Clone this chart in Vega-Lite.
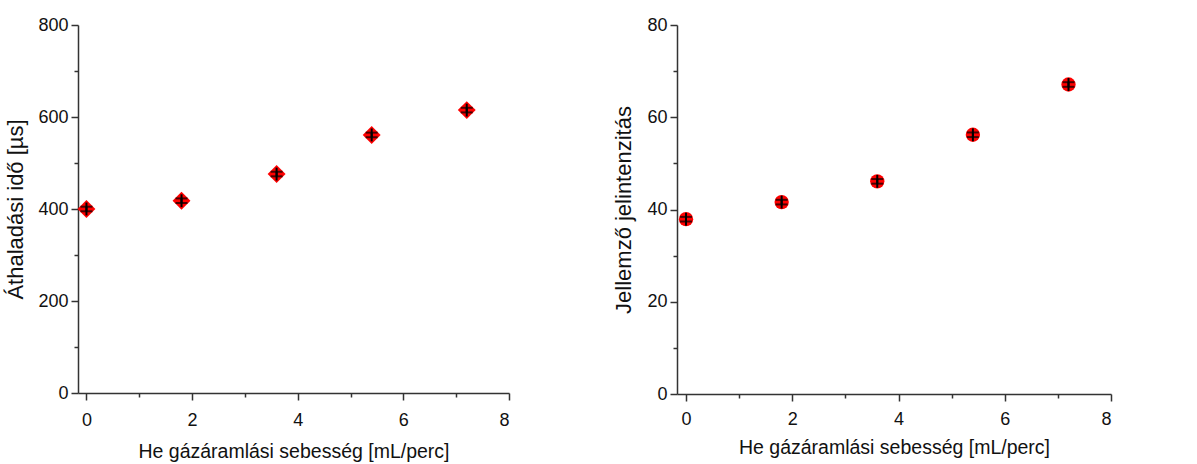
{
  "$schema": "https://vega.github.io/schema/vega-lite/v6.json",
  "padding": {"left": 4, "top": 16, "right": 5, "bottom": 4},
  "spacing": 102,
  "data": {
    "values": [
      {"x": 0, "t": 400, "tlo": 386, "thi": 414, "tclo": 395, "tchi": 405, "i": 37.9, "ilo": 36.5, "ihi": 39.3, "iclo": 37.4, "ichi": 38.4},
      {"x": 1.8, "t": 418, "tlo": 404, "thi": 432, "tclo": 413, "tchi": 423, "i": 41.6, "ilo": 40.2, "ihi": 43.0, "iclo": 41.1, "ichi": 42.1},
      {"x": 3.6, "t": 476, "tlo": 462, "thi": 490, "tclo": 471, "tchi": 481, "i": 46.1, "ilo": 44.7, "ihi": 47.5, "iclo": 45.6, "ichi": 46.6},
      {"x": 5.4, "t": 561, "tlo": 547, "thi": 575, "tclo": 556, "tchi": 566, "i": 56.2, "ilo": 54.8, "ihi": 57.6, "iclo": 55.7, "ichi": 56.7},
      {"x": 7.2, "t": 615, "tlo": 601, "thi": 629, "tclo": 610, "tchi": 620, "i": 67.1, "ilo": 65.7, "ihi": 68.5, "iclo": 66.6, "ichi": 67.6}
    ]
  },
  "hconcat": [
    {
      "width": 431,
      "height": 368,
      "layer": [
        {
          "mark": {"type": "point", "shape": "diamond", "filled": true, "color": "#ff0000", "opacity": 1, "size": 320},
          "encoding": {
            "x": {"field": "x", "type": "quantitative", "scale": {"domain": [-0.16, 8], "nice": false, "zero": false},
              "title": "He gázáramlási sebesség [mL/perc]",
              "axis": {"values": [0,1,2,3,4,5,6,7,8],
                "labelFontSize": 18, "titleFontSize": 19.5, "titlePadding": 13, "labelPadding": 11,
                "labelExpr": "datum.value % 2 === 0 ? datum.label : ''",
                "tickSize": {"condition": {"test": "datum.value % 2 === 0", "value": 7}, "value": 4}}},
            "y": {"field": "t", "type": "quantitative", "scale": {"domain": [0, 800], "nice": false},
              "title": "Áthaladási idő [µs]",
              "axis": {"values": [0,100,200,300,400,500,600,700,800],
                "labelFontSize": 18, "titleFontSize": 22, "titlePadding": 10, "labelPadding": 3,
                "labelExpr": "datum.value % 200 === 0 ? datum.label : ''",
                "tickSize": {"condition": {"test": "datum.value % 200 === 0", "value": 7}, "value": 4}}}
          }
        },
        {
          "mark": {"type": "rule", "color": "black", "strokeWidth": 2},
          "encoding": {
            "x": {"field": "x", "type": "quantitative", "title": "He gázáramlási sebesség [mL/perc]"},
            "y": {"field": "tlo", "type": "quantitative", "title": "Áthaladási idő [µs]"},
            "y2": {"field": "thi"}
          }
        },
        {
          "mark": {"type": "errorbar", "ticks": {"size": 12, "color": "black", "thickness": 2}, "rule": {"color": "black", "strokeWidth": 2}},
          "encoding": {
            "x": {"field": "x", "type": "quantitative", "title": "He gázáramlási sebesség [mL/perc]"},
            "y": {"field": "tclo", "type": "quantitative", "title": "Áthaladási idő [µs]"},
            "y2": {"field": "tchi"}
          }
        }
      ]
    },
    {
      "width": 434,
      "height": 369,
      "layer": [
        {
          "mark": {"type": "point", "shape": "circle", "filled": true, "color": "#ff0000", "opacity": 1, "size": 205},
          "encoding": {
            "x": {"field": "x", "type": "quantitative", "scale": {"domain": [-0.17, 8], "nice": false, "zero": false},
              "title": "He gázáramlási sebesség [mL/perc]",
              "axis": {"values": [0,1,2,3,4,5,6,7,8],
                "labelFontSize": 18, "titleFontSize": 19.5, "titlePadding": 10, "labelPadding": 9,
                "labelExpr": "datum.value % 2 === 0 ? datum.label : ''",
                "tickSize": {"condition": {"test": "datum.value % 2 === 0", "value": 7}, "value": 4}}},
            "y": {"field": "i", "type": "quantitative", "scale": {"domain": [0, 80], "nice": false},
              "title": "Jellemző jelintenzitás",
              "axis": {"values": [0,10,20,30,40,50,60,70,80],
                "labelFontSize": 18, "titleFontSize": 22, "titlePadding": 11, "labelPadding": 3,
                "labelExpr": "datum.value % 20 === 0 ? datum.label : ''",
                "tickSize": {"condition": {"test": "datum.value % 20 === 0", "value": 7}, "value": 4}}}
          }
        },
        {
          "mark": {"type": "rule", "color": "black", "strokeWidth": 2},
          "encoding": {
            "x": {"field": "x", "type": "quantitative", "title": "He gázáramlási sebesség [mL/perc]"},
            "y": {"field": "ilo", "type": "quantitative", "title": "Jellemző jelintenzitás"},
            "y2": {"field": "ihi"}
          }
        },
        {
          "mark": {"type": "errorbar", "ticks": {"size": 12, "color": "black", "thickness": 2}, "rule": {"color": "black", "strokeWidth": 2}},
          "encoding": {
            "x": {"field": "x", "type": "quantitative", "title": "He gázáramlási sebesség [mL/perc]"},
            "y": {"field": "iclo", "type": "quantitative", "title": "Jellemző jelintenzitás"},
            "y2": {"field": "ichi"}
          }
        }
      ]
    }
  ],
  "config": {
    "font": "Liberation Sans",
    "view": {"stroke": null},
    "axis": {
      "grid": false,
      "titleFontWeight": "normal",
      "labelColor": "#111",
      "titleColor": "#111",
      "domainColor": "#333",
      "domainWidth": 1.5,
      "tickColor": "#333",
      "tickWidth": 1.5,
      "labelOverlap": false
    }
  }
}
